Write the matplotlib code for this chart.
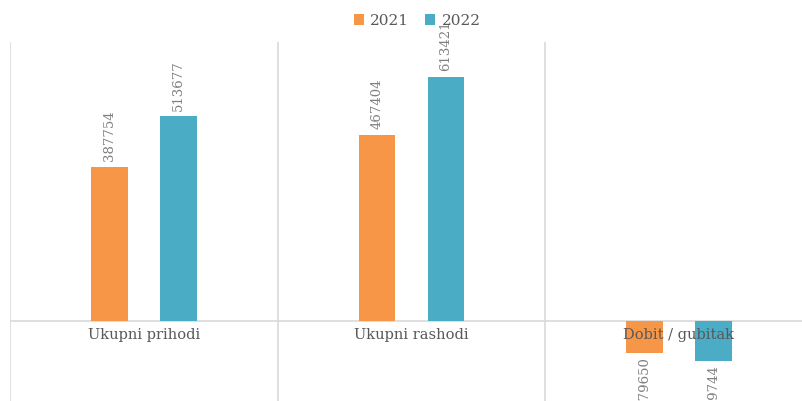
import matplotlib
matplotlib.use("Agg")
import matplotlib.pyplot as plt
import numpy as np

categories = ["Ukupni prihodi", "Ukupni rashodi", "Dobit / gubitak"]
series_names = ["2021", "2022"]
values_2021 = [387754, 467404, -79650]
values_2022 = [513677, 613421, -99744]
colors = ["#F79646", "#4BACC6"]

plt.rcParams['font.family'] = ['DejaVu Serif']

fig = plt.figure(figsize=(8.02, 4.01), dpi=100)
ax = fig.add_axes([10/802, 0, 802.5/802, 359/401])

x = np.arange(len(categories))
width = 0.138
offsets = [-0.128, 0.13]
text_color = "#595959"
num_color = "#7F7F7F"

for vals, off, col, name in zip([values_2021, values_2022], offsets, colors, series_names):
    bars = ax.bar(x + off, vals, width, color=col, label=name, zorder=3)
    for b, v in zip(bars, vals):
        if v >= 0:
            ax.annotate(str(v), (b.get_x() + b.get_width()/2, v), xytext=(0, 4),
                        textcoords="offset points", rotation=90, ha="center", va="bottom",
                        fontsize=9.5, color=num_color)
        else:
            ax.annotate(str(v), (b.get_x() + b.get_width()/2, v), xytext=(0, -3),
                        textcoords="offset points", rotation=90, ha="center", va="top",
                        fontsize=9.5, color=num_color)

ax.set_xlim(-0.5, 2.5)
ax.set_ylim(-200000, 700000)
ax.axhline(0, color="#D9D9D9", lw=1.2, zorder=2)
for b in [-0.5, 0.5, 1.5, 2.5]:
    ax.axvline(b, color="#D9D9D9", lw=1.2, zorder=1)

for i, c in enumerate(categories):
    ax.annotate(c, (i, 0), xytext=(0, -5), textcoords="offset points",
                ha="center", va="top", fontsize=10.5, color=text_color, zorder=4)

ax.set_xticks([])
ax.set_yticks([])
for s in ax.spines.values():
    s.set_visible(False)

fig.legend(loc="upper center", bbox_to_anchor=(0.52, 1.0), ncol=2, frameon=False,
           fontsize=11, handlelength=0.7, handleheight=0.7, handletextpad=0.4,
           columnspacing=1.0, labelcolor=text_color)

fig.savefig("out.png", dpi=100)
